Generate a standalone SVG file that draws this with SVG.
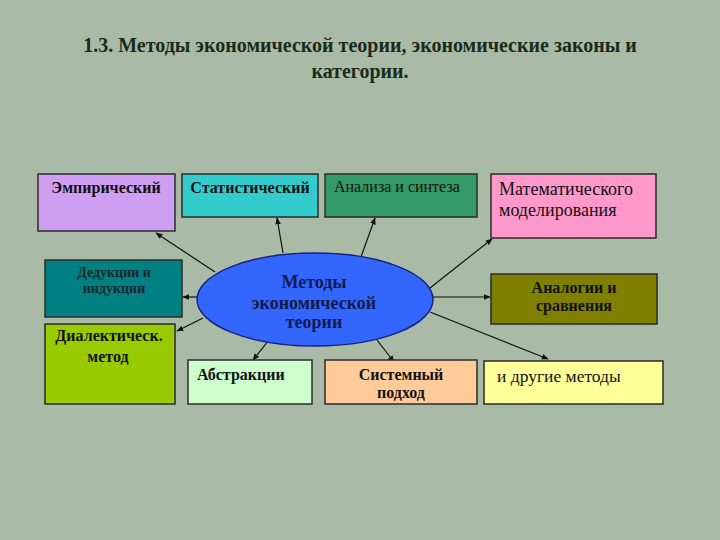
<svg xmlns="http://www.w3.org/2000/svg" width="720" height="540" viewBox="0 0 720 540">
<defs>
<marker id="ah" viewBox="0 0 10 10" refX="9" refY="5" markerWidth="7" markerHeight="7" orient="auto" markerUnits="userSpaceOnUse">
<path d="M0,1 L10,5 L0,9 z" fill="#111"/>
</marker>
<style>
.box{stroke:#2b2b2b;stroke-width:1.5}
.t{font-family:"Liberation Serif","Times New Roman",serif;fill:#111;}
.b{font-weight:bold;font-size:16px}
.n{font-size:17.5px}
.c{text-anchor:middle}
.conn line{stroke:#111;stroke-width:1.2;marker-end:url(#ah)}
</style>
</defs>
<rect width="720" height="540" fill="#a9bba6"/>
<g id="title">
<text class="t c" x="360" y="52" style="font-size:20px;font-weight:bold;fill:#1c2a1c">1.3. Методы экономической теории, экономические законы и</text>
<text class="t c" x="360" y="78" style="font-size:20px;font-weight:bold;fill:#1c2a1c">категории.</text>
</g>
<g class="conn" id="connectors">
<line x1="215" y1="272" x2="156" y2="233"/>
<line x1="283" y1="253" x2="277" y2="218"/>
<line x1="361" y1="257" x2="375" y2="218"/>
<line x1="430" y1="288" x2="492" y2="239"/>
<line x1="433" y1="297" x2="490" y2="297"/>
<line x1="430" y1="312" x2="548" y2="359"/>
<line x1="377" y1="340" x2="394" y2="362"/>
<line x1="277" y1="330" x2="253" y2="360"/>
<line x1="203" y1="318" x2="177" y2="331"/>
<line x1="197" y1="297" x2="183" y2="297"/>
</g>
<g id="center">
<ellipse cx="315" cy="299.5" rx="118" ry="46.5" fill="#3366ff" stroke="#1a237e" stroke-width="1.5"/>
<text class="t c" x="314" y="288" style="font-size:18px;font-weight:bold;fill:#141a4a">Методы</text>
<text class="t c" x="314" y="309" style="font-size:18px;font-weight:bold;fill:#141a4a">экономической</text>
<text class="t c" x="314" y="328" style="font-size:18px;font-weight:bold;fill:#141a4a">теории</text>
</g>
<g id="empir">
<rect class="box" x="38" y="174" width="137" height="57" fill="#cf9ff3"/>
<text class="t b c" x="106" y="193">Эмпирический</text>
</g>
<g id="stat">
<rect class="box" x="182" y="174" width="136" height="43" fill="#33cccc"/>
<text class="t b c" x="250" y="193">Статистический</text>
</g>
<g id="analiz">
<rect class="box" x="325" y="174" width="152" height="43" fill="#339966"/>
<text class="t" x="334" y="192" style="font-size:16px">Анализа и синтеза</text>
</g>
<g id="matem">
<rect class="box" x="491" y="174" width="165" height="64" fill="#ff99cc"/>
<text class="t" x="499" y="195" style="font-size:18px">Математического</text>
<text class="t" x="499" y="216" style="font-size:18px">моделирования</text>
</g>
<g id="deduk">
<rect class="box" x="45" y="260" width="137" height="57" fill="#008080"/>
<text class="t b c" x="114" y="277" style="font-size:14px;fill:#1a2a2a">Дедукции и</text>
<text class="t b c" x="114" y="293" style="font-size:14px;fill:#1a2a2a">индукции</text>
</g>
<g id="dialekt">
<rect class="box" x="45" y="324" width="130" height="80" fill="#99cc00"/>
<text class="t b c" x="109" y="341">Диалектическ.</text>
<text class="t b c" x="108" y="362">метод</text>
</g>
<g id="abstr">
<rect class="box" x="188" y="360" width="124" height="44" fill="#ccffcc"/>
<text class="t b" x="197" y="380">Абстракции</text>
</g>
<g id="sistem">
<rect class="box" x="325" y="360" width="152" height="44" fill="#ffcc99"/>
<text class="t b c" x="401" y="380">Системный</text>
<text class="t b c" x="401" y="398">подход</text>
</g>
<g id="analog">
<rect class="box" x="491" y="274" width="166" height="50" fill="#808000"/>
<text class="t b c" x="574" y="293">Аналогии и</text>
<text class="t b c" x="574" y="311">сравнения</text>
</g>
<g id="drugie">
<rect class="box" x="484" y="361" width="179" height="43" fill="#ffff99"/>
<text class="t n" x="497" y="382">и другие методы</text>
</g>
</svg>
